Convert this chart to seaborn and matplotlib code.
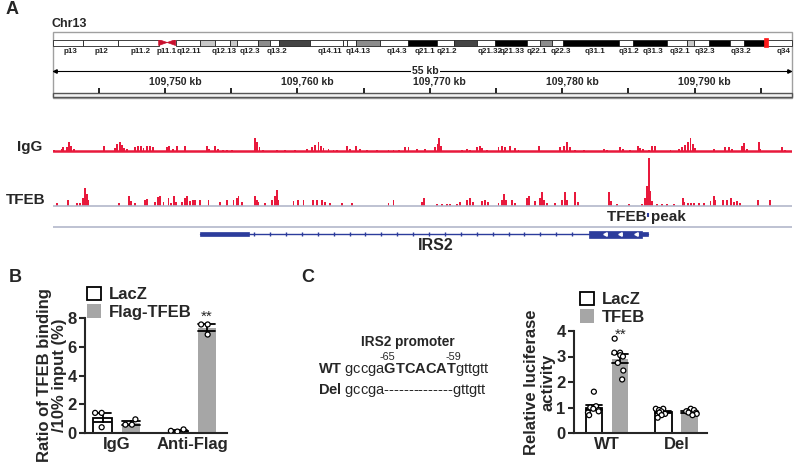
import numpy as np
import pandas as pd
import matplotlib
matplotlib.use("Agg")
import matplotlib.pyplot as plt
from matplotlib.patches import Rectangle, Polygon
import seaborn as sns

W, H = 795, 462
RED = "#e8193c"
BLUE = "#2c3c9c"
GREY = "#a6a6a6"
LINE_GREY = "#b3b7cb"

# ---------------- panel A : IGV view ----------------
VIEW_START = 109741.54   # kb, left edge of window
VIEW_END = 109797.35     # kb, right edge of window

# chr13 ideogram, band edges in % of chromosome length
BAND_EDGES = [0, 4.1, 8.8, 14.3, 16.6, 19.9, 21.9, 24.0, 24.9, 27.7, 29.4, 30.6,
              34.8, 39.2, 39.8, 41.0, 44.2, 48.0, 52.0, 54.3, 57.4, 59.8, 64.1,
              65.9, 67.5, 69.0, 76.6, 78.5, 83.1, 85.8, 86.7, 88.8, 91.6, 93.5,
              96.5, 100]
BAND_STAIN = ["gneg", "gneg", "gneg", "acen", "gneg", "gpos25", "gneg", "gpos25",
              "gneg", "gpos50", "gneg", "gpos75", "gneg", "gneg", "gneg", "gpos50",
              "gneg", "gpos100", "gneg", "gpos75", "gneg", "gpos100", "gneg",
              "gpos50", "gneg", "gpos100", "gneg", "gpos100", "gneg", "gpos25",
              "gneg", "gpos100", "gneg", "gpos100", "gneg"]
BAND_LABELS = ["p13", "p12", "p11.2", "p11.1", "q12.11", "q12.13", "q12.3", "q13.2",
               "q14.11", "q14.13", "q14.3", "q21.1", "q21.2", "q21.32", "q21.33",
               "q22.1", "q22.3", "q31.1", "q31.2", "q31.3", "q32.1", "q32.3",
               "q33.2", "q34"]
BAND_LABEL_POS = [2.3, 6.5, 11.8, 15.4, 18.4, 23.2, 26.6, 30.3, 37.5, 41.3, 46.5,
                  50.3, 53.3, 59.1, 62.2, 65.5, 68.7, 73.3, 77.9, 81.2, 84.8, 88.2,
                  93.1, 98.9]
REGION_MARK = (96.2, 96.8)
STAIN_COLORS = {"gneg": "white", "gpos25": "#c8c8c8", "gpos50": "#8c8c8c",
                "gpos75": "#444444", "gpos100": "#000000"}

# ChIP-seq peaks: position (kb from window start) and height (signal)
IGG_POS = [0.10, 0.65, 0.78, 1.03, 1.21, 1.36, 1.59, 3.85, 4.69, 4.86, 5.06, 5.21,
           5.37, 5.57, 6.20, 6.45, 6.62, 6.83, 7.08, 7.33, 7.53, 8.59, 8.79, 9.09,
           9.35, 9.97, 11.61, 11.81, 12.24, 12.49, 12.87, 13.17, 13.50, 15.26, 15.39,
           15.59, 15.89, 16.90, 17.53, 18.29, 19.17, 19.55, 19.80, 20.05, 20.23,
           20.43, 20.81, 21.18, 21.44, 22.19, 22.44, 22.90, 23.20, 23.70, 24.46,
           25.34, 25.72, 26.10, 26.60, 26.85, 27.48, 28.11, 28.87, 29.04, 29.17,
           29.30, 30.88, 31.26, 31.51, 32.02, 32.22, 32.39, 32.77, 33.65, 33.90,
           34.16, 34.53, 34.91, 35.16, 36.68, 38.31, 38.61, 38.82, 39.02, 39.45,
           40.07, 41.59, 41.84, 42.85, 43.05, 43.60, 44.16, 44.31, 44.56, 44.99,
           45.24, 45.49, 46.63, 47.26, 47.51, 47.76, 47.94, 48.14, 48.34, 48.51,
           49.90, 50.78, 51.03, 51.28, 52.04, 52.17, 52.42, 53.30, 53.43, 55.06,
           55.31]
IGG_H = [2, 3, 5, 5, 10, 6, 3, 6, 4, 8, 10, 7,
         4, 3, 5, 6, 6, 4, 6, 6, 5, 5, 6, 3,
         6, 6, 6, 3, 6, 3, 2, 2, 2, 14, 10,
         5, 2, 2, 2, 2, 3, 5, 7, 10, 6,
         4, 3, 2, 2, 6, 3, 6, 3, 2, 2,
         2, 2, 2, 5, 5, 3, 3, 5, 8, 14,
         6, 2, 3, 2, 5, 6, 4, 2, 5, 6,
         5, 6, 4, 2, 6, 5, 6, 10, 5, 2,
         2, 3, 2, 5, 3, 2, 6, 4, 3, 2,
         6, 6, 2, 3, 5, 7, 10, 14, 8, 4,
         3, 5, 5, 3, 6, 9, 3, 10, 3, 5,
         2]
TFEB_POS = [0.28, 1.16, 1.79, 2.04, 2.29, 2.42, 2.54, 2.67, 5.01, 5.77, 5.87, 6.20,
            6.95, 7.08, 7.71, 7.96, 8.09, 8.34, 8.72, 8.92, 9.14, 9.27, 9.72, 9.97,
            10.10, 10.35, 10.60, 10.73, 11.11, 11.74, 12.62, 13.12, 13.63, 13.88,
            14.01, 14.26, 15.26, 15.39, 15.52, 16.02, 16.52, 16.78, 16.90, 17.03,
            18.16, 18.49, 18.92, 19.62, 19.92, 20.30, 20.55, 20.93, 21.81, 22.57,
            25.34, 25.72, 27.86, 28.04, 29.00, 29.37, 29.75, 30.00, 30.50, 30.76,
            31.26, 31.51, 31.71, 32.39, 32.65, 32.82, 33.65, 33.90, 34.08, 34.23,
            34.66, 34.91, 35.79, 35.92, 36.42, 36.75, 36.93, 37.10, 37.30, 37.93,
            38.44, 38.64, 38.82, 39.45, 39.62, 42.00, 42.14, 42.59, 43.48, 44.48,
            44.74, 44.86, 44.99, 45.11, 45.24, 45.62, 46.00, 46.37, 46.88, 47.58,
            47.68, 47.94, 48.19, 48.44, 48.77, 49.19, 49.65, 49.90, 50.03, 50.60,
            50.91, 51.21, 51.41, 51.66, 51.91, 53.22, 54.18]
TFEB_H = [3, 6, 3, 3, 8, 18, 12, 6, 3, 10, 5, 3,
          6, 7, 4, 9, 10, 4, 8, 3, 10, 4, 4, 8,
          10, 5, 6, 6, 6, 6, 4, 6, 6, 8,
          10, 4, 10, 6, 4, 3, 6, 10, 16, 6,
          5, 6, 6, 6, 6, 6, 4, 3, 3, 3,
          3, 6, 4, 8, 2, 2, 2, 2, 2, 4,
          6, 8, 4, 5, 6, 4, 3, 6, 12, 6,
          6, 3, 8, 10, 5, 8, 14, 6, 3, 3,
          6, 14, 6, 14, 4, 14, 5, 2, 2, 2,
          8, 20, 48, 15, 5, 2, 2, 2, 2, 8,
          4, 3, 3, 3, 3, 3, 5, 10, 6, 6,
          6, 8, 4, 5, 3, 6, 6]

# IRS2 gene model (kb from window start, minus strand)
GENE_SPAN = (11.1, 44.95)
UTR3 = (11.1, 14.8)
CDS = (40.5, 44.5)
PEAK_POS = 44.94
RULER_TICKS = [109745, 109750, 109755, 109760, 109765, 109770, 109775,
               109780, 109785, 109790, 109795]

# ---------------- panel B : ChIP-qPCR ----------------
B_GROUPS = ["IgG", "Anti-Flag"]
B_CONDS = ["LacZ", "Flag-TFEB"]
B_IGG_LACZ = [1.40, 1.40, 0.40]
B_IGG_TFEB = [0.95, 0.58, 0.58]
B_FLAG_LACZ = [0.25, 0.15, 0.10]
B_FLAG_TFEB = [7.55, 7.55, 6.85]

# ---------------- panel C : luciferase ----------------
C_GROUPS = ["WT", "Del"]
C_CONDS = ["LacZ", "TFEB"]
C_WT_LACZ = [1.62, 1.05, 1.00, 0.95, 0.90, 0.85, 0.80, 0.70]
C_WT_TFEB = [3.70, 3.15, 3.15, 3.05, 3.00, 2.75, 2.45, 2.10]
C_DEL_LACZ = [0.95, 0.95, 0.90, 0.85, 0.80, 0.75, 0.70, 0.60]
C_DEL_TFEB = [0.95, 0.90, 0.85, 0.85, 0.80, 0.80, 0.75, 0.70]

sns.set_style("ticks")
plt.rcParams["font.family"] = ["Liberation Sans", "DejaVu Sans"]
plt.rcParams["font.weight"] = "bold"
plt.rcParams["axes.labelweight"] = "bold"
plt.rcParams["mathtext.fontset"] = "custom"
plt.rcParams["mathtext.rm"] = "Liberation Sans"
plt.rcParams["mathtext.bf"] = "Liberation Sans:bold"
np.random.seed(3)  # only for the horizontal jitter of the dots in C

fig = plt.figure(figsize=(W / 100, H / 100), dpi=100)


def px_axes(x0, y0, x1, y1):
    return fig.add_axes([x0 / W, 1 - y1 / H, (x1 - x0) / W, (y1 - y0) / H])


def ftext(x, y, s, **kw):
    fig.text(x / W, 1 - y / H, s, **kw)


bg = px_axes(0, 0, W, H)
bg.set_xlim(0, W)
bg.set_ylim(H, 0)
bg.axis("off")
bg.add_patch(Rectangle((53, 31.5), 739, 66, fill=False, ec="#a0a0a0", lw=1))

ftext(12, 10, "A", fontsize=13, ha="center", va="center")
ftext(15, 278, "B", fontsize=13, ha="center", va="center")
ftext(308, 278, "C", fontsize=13, ha="center", va="center")
ftext(52, 24, "Chr13", fontsize=9, ha="left", va="center")

# ideogram
ax = px_axes(53, 39.5, 792, 45.5)
ax.set_xlim(0, 100)
ax.set_ylim(0, 1)
ax.axis("off")
for a, b, st in zip(BAND_EDGES[:-1], BAND_EDGES[1:], BAND_STAIN):
    if st == "acen":
        mid = (a + b) / 2
        ax.add_patch(Polygon([(a, 0), (a, 1), (mid, 0.5)], fc="#c8102e", ec="#c8102e", lw=0.5))
        ax.add_patch(Polygon([(b, 0), (b, 1), (mid, 0.5)], fc="#c8102e", ec="#c8102e", lw=0.5))
    else:
        ax.add_patch(Rectangle((a, 0), b - a, 1, fc=STAIN_COLORS[st], ec="#222222",
                               lw=0.6, clip_on=False))
ax.add_patch(Rectangle((REGION_MARK[0], -0.25), REGION_MARK[1] - REGION_MARK[0], 1.5,
                       fc="#ff1a1a", ec="#ff1a1a", lw=0.5, clip_on=False))
for lab, p in zip(BAND_LABELS, BAND_LABEL_POS):
    ax.text(p, -1.0, lab, ha="center", va="center", fontsize=5.8, color="#222222")

# ruler
ax = px_axes(53, 58, 792, 99)
ax.set_xlim(VIEW_START, VIEW_END)
ax.set_ylim(99, 58)
ax.axis("off")
ax.plot([VIEW_START, VIEW_END - 0.1], [71, 71], color="k", lw=0.8, clip_on=False)
ax.plot([VIEW_START + 0.15], [71], marker="<", ms=2.5, color="k", clip_on=False)
ax.plot([VIEW_END - 0.25], [71], marker=">", ms=2.5, color="k", clip_on=False)
ax.text((VIEW_START + VIEW_END) / 2 + 0.2, 70.5, "55 kb", ha="center", va="center",
        fontsize=7.5, bbox=dict(fc="white", ec="none", pad=0.8))
ax.vlines(RULER_TICKS, 88, 93, color="k", lw=1.2)
for t in RULER_TICKS:
    if t % 10 == 0:
        ax.text(t + 0.75, 81.5, f"{t:,} kb", ha="center", va="center", fontsize=7.5)
ax.add_patch(Rectangle((VIEW_START, 93), VIEW_END - VIEW_START, 4, fc="#f2f2f2",
                       ec="#555555", lw=1, clip_on=False))

# IgG track
ax = px_axes(53, 128, 792, 154)
ax.set_xlim(VIEW_START, VIEW_END)
ax.set_ylim(-2, 24)
ax.axis("off")
ax.axhline(0.6, color=RED, lw=1.8)
ax.bar(VIEW_START + np.array(IGG_POS), IGG_H, width=0.14, color=RED, lw=0)
ftext(42, 147, "IgG", fontsize=11, ha="right", va="center")

# TFEB track
ax = px_axes(53, 150, 792, 208)
ax.set_xlim(VIEW_START, VIEW_END)
ax.set_ylim(-2, 56)
ax.axis("off")
ax.axhline(0, color=LINE_GREY, lw=1.2)
ax.bar(VIEW_START + np.array(TFEB_POS), TFEB_H, width=0.14, color=RED, lw=0)
ftext(45, 200, "TFEB", fontsize=11, ha="right", va="center")

# gene track
ax = px_axes(53, 208, 792, 252)
ax.set_xlim(VIEW_START, VIEW_END)
ax.set_ylim(252, 208)
ax.axis("off")
ax.axhline(227, color=LINE_GREY, lw=1.2)
ax.vlines(VIEW_START + PEAK_POS, 212.5, 216.5, color=BLUE, lw=1.5)
ax.text(VIEW_START + 44.8, 217.5, "TFEB peak", ha="center", va="center", fontsize=11)
ax.plot(VIEW_START + np.array(GENE_SPAN), [234, 234], color=BLUE, lw=1)
intr = VIEW_START + np.arange(UTR3[1] + 0.4, CDS[0] - 0.5, 1.2)
ax.plot(intr, np.full(len(intr), 234), ls="none", marker="|", ms=3, mew=1, color=BLUE)
ax.add_patch(Rectangle((VIEW_START + UTR3[0], 232), UTR3[1] - UTR3[0], 4, fc=BLUE, ec=BLUE, lw=0.5))
ax.add_patch(Rectangle((VIEW_START + CDS[0], 230.5), CDS[1] - CDS[0], 7, fc=BLUE, ec=BLUE, lw=0.5))
ax.add_patch(Rectangle((VIEW_START + CDS[1], 232), GENE_SPAN[1] - CDS[1], 4, fc=BLUE, ec=BLUE, lw=0.5))
chev = VIEW_START + np.linspace(CDS[0] + 1.2, CDS[1] - 0.5, 3)
ax.plot(chev, np.full(3, 234), ls="none", marker="<", ms=2.5, color="white")
ax.text(VIEW_START + 28.9, 246, "IRS2", ha="center", va="center", fontsize=11.5)


def make_df(groups, conds, arrays):
    rows = []
    for (g, c), vals in zip([(g, c) for g in groups for c in conds], arrays):
        rows += [{"group": g, "cond": c, "value": v} for v in vals]
    return pd.DataFrame(rows)


def bar_panel(ax, df, groups, conds, ymax, xlim, legend_xy, swarm=True):
    sns.barplot(data=df, x="group", y="value", hue="cond", order=groups, hue_order=conds,
                palette=["white", GREY], errorbar="se", capsize=0.45, width=0.75, gap=0.35,
                err_kws={"color": "black", "linewidth": 1.3}, legend=False, ax=ax, zorder=1)
    for patch in ax.containers[0]:
        patch.set_edgecolor("black")
        patch.set_linewidth(1.3)
    for patch in ax.containers[1]:
        patch.set_edgecolor("none")
    pts = dict(data=df, x="group", y="value", hue="cond", order=groups, hue_order=conds,
               dodge=True, palette=["white", "white"], edgecolor="black", linewidth=0.9,
               size=3.6, legend=False, ax=ax, zorder=3)
    if swarm:
        sns.swarmplot(**pts)
    else:
        sns.stripplot(jitter=0.2, **pts)
    ax.set_ylim(0, ymax)
    ax.set_xlim(*xlim)
    ax.set_yticks(range(0, ymax + 1))
    if ymax > 4:
        ax.set_yticks(range(0, ymax + 1, 2))
    ax.set_xlabel("")
    sns.despine(ax=ax)
    for s in ("left", "bottom"):
        ax.spines[s].set_linewidth(1.5)
    ax.tick_params(labelsize=12, width=1.5, length=4, pad=2)
    ax.tick_params(axis="x", length=0, pad=3)
    handles = [Rectangle((0, 0), 1, 1, fc="white", ec="black", lw=1.3),
               Rectangle((0, 0), 1, 1, fc=GREY, ec="none")]
    ax.legend(handles, conds, loc="upper left",
              bbox_to_anchor=(legend_xy[0] / W, 1 - legend_xy[1] / H),
              bbox_transform=fig.transFigure, frameon=False, borderpad=0,
              borderaxespad=0, handlelength=0.85, handleheight=0.85,
              handletextpad=0.45, labelspacing=0.12, prop={"weight": "bold", "size": 12})


# panel B
dfb = make_df(B_GROUPS, B_CONDS, [B_IGG_LACZ, B_IGG_TFEB, B_FLAG_LACZ, B_FLAG_TFEB])
ax = px_axes(85, 318, 227, 433)
bar_panel(ax, dfb, B_GROUPS, B_CONDS, 8, (-0.42, 1.455), (87, 287))
ax.set_ylabel("Ratio of TFEB binding\n/10% input (%)", fontsize=12, linespacing=1.05, labelpad=0)
ax.text(1.19, np.mean(B_FLAG_TFEB) + 0.8, "**", ha="center", va="center", fontsize=11,
        fontweight="normal", clip_on=False)

# panel C
dfc = make_df(C_GROUPS, C_CONDS, [C_WT_LACZ, C_WT_TFEB, C_DEL_LACZ, C_DEL_TFEB])
ax = px_axes(574, 331, 707, 433)
bar_panel(ax, dfc, C_GROUPS, C_CONDS, 4, (-0.477, 1.444), (580, 292), swarm=False)
ax.set_ylabel("Relative luciferase\nactivity", fontsize=12, linespacing=1.05, labelpad=1)
ax.text(0.19, np.mean(C_WT_TFEB) + 0.95, "**", ha="center", va="center", fontsize=11,
        fontweight="normal", clip_on=False)

# promoter sequence
ftext(408, 342, "IRS2 promoter", fontsize=9.8, ha="center", va="center")
ftext(387, 357, "-65", fontsize=7.8, fontweight="normal", ha="center", va="center")
ftext(453, 357, "-59", fontsize=7.8, fontweight="normal", ha="center", va="center")
ftext(318, 369, r"$\mathbf{WT}$ gccga$\mathbf{GTCACAT}$gttgtt", fontsize=10.5,
      fontweight="normal", ha="left", va="center")
ftext(318, 390, r"$\mathbf{Del}$ gccga--------------gttgtt", fontsize=10.5,
      fontweight="normal", ha="left", va="center")

fig.savefig("out.png", dpi=100)
